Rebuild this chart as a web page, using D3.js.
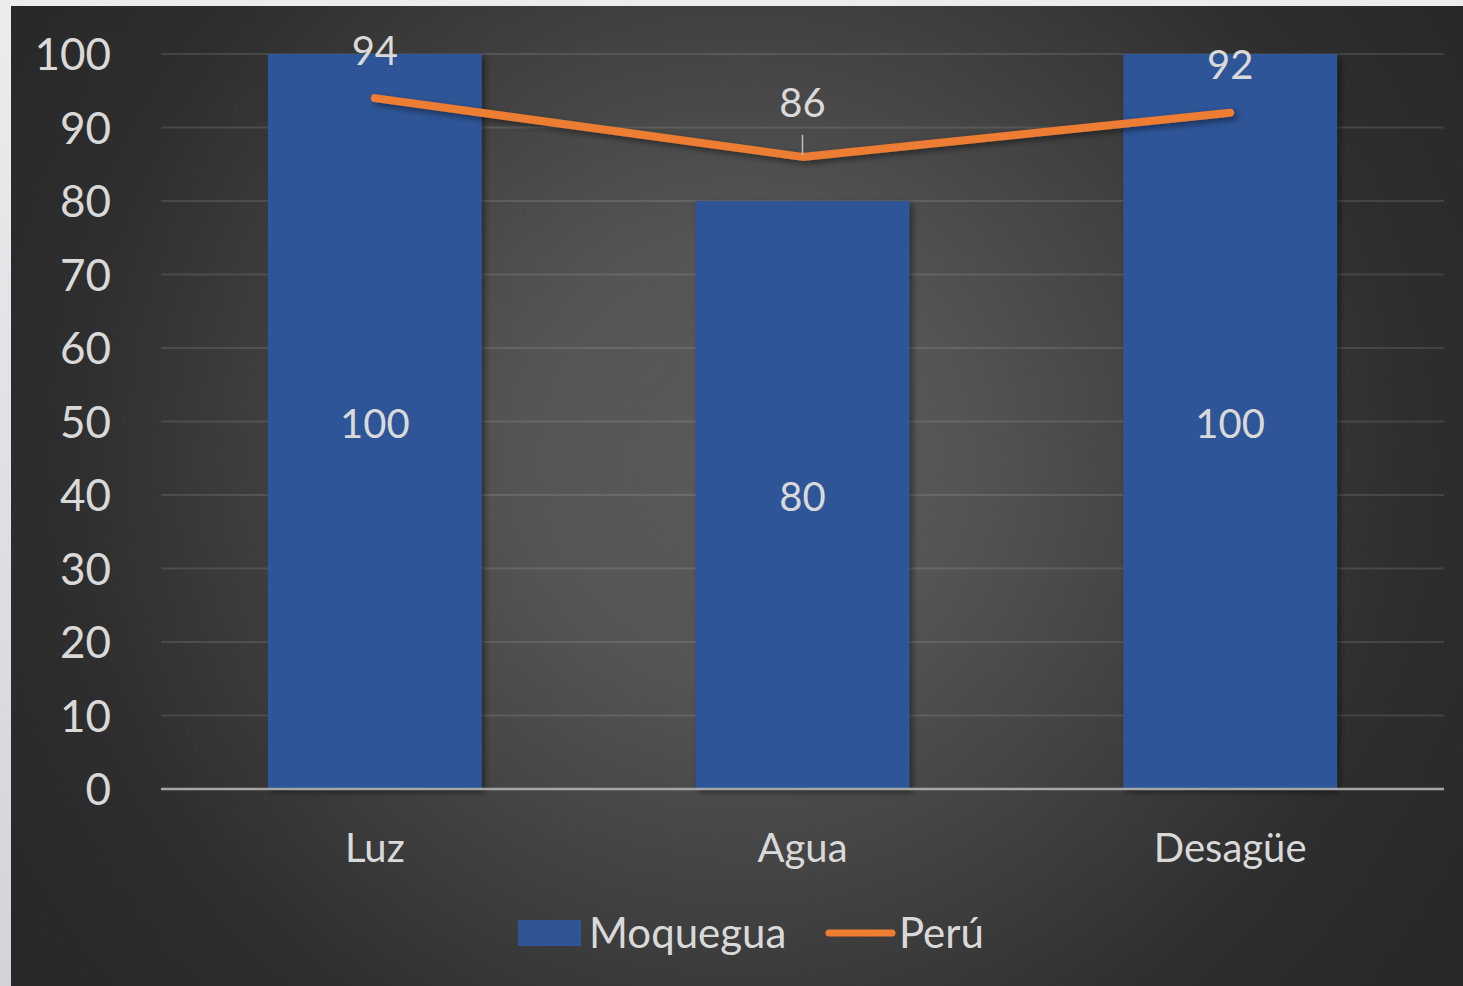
<!DOCTYPE html>
<html>
<head>
<meta charset="utf-8">
<script src="https://cdn.jsdelivr.net/npm/d3@7"></script>
<style>
  html, body { margin: 0; padding: 0; background: #e4e5e8; }
  svg { display: block; }
</style>
</head>
<body>
<svg id="chart" width="1463" height="986"></svg>
<script>
// Cobertura de servicios básicos (%)
const categories = ["Luz", "Agua", "Desagüe"];
const moquegua = [100, 80, 100];
const peru = [94, 86, 92];
const yTicks = [0, 10, 20, 30, 40, 50, 60, 70, 80, 90, 100];
const seriesNames = ["Moquegua", "Perú"];

const W = 1463, H = 986;
const panel = { x: 11, y: 6 };
const margin = { left: 161, right: 19, top: 54, bottom: 197 };
const font = "Lato, Calibri, 'Noto Sans', sans-serif";
const textColor = "#d9d9d9";
const blue = "#2f5597";
const orange = "#ed7d31";

const svg = d3.select("#chart");
const defs = svg.append("defs");

// Panel background: soft radial highlight
const rg = defs.append("radialGradient")
  .attr("id", "bg").attr("gradientUnits", "userSpaceOnUse")
  .attr("cx", 740).attr("cy", 460).attr("r", 860);
rg.append("stop").attr("offset", "0%").attr("stop-color", "#5a5a5a");
rg.append("stop").attr("offset", "25%").attr("stop-color", "#555555");
rg.append("stop").attr("offset", "55%").attr("stop-color", "#3f3f3f");
rg.append("stop").attr("offset", "78%").attr("stop-color", "#2e2e2e");
rg.append("stop").attr("offset", "100%").attr("stop-color", "#282828");

// Frame gradient on the left margin
const lg = defs.append("linearGradient").attr("id", "frame")
  .attr("x1", 0).attr("y1", 0).attr("x2", 0).attr("y2", 1);
lg.append("stop").attr("offset", "0%").attr("stop-color", "#ebecee");
lg.append("stop").attr("offset", "100%").attr("stop-color", "#d3d4d8");

const shadow = defs.append("filter").attr("id", "shadow")
  .attr("x", "-20%").attr("y", "-20%").attr("width", "140%").attr("height", "140%");
shadow.append("feDropShadow").attr("dx", 3).attr("dy", 3)
  .attr("stdDeviation", 3).attr("flood-color", "#000").attr("flood-opacity", 0.45);

svg.append("rect").attr("x", 0).attr("y", 0).attr("width", W).attr("height", H)
  .attr("fill", "url(#frame)");
svg.append("rect").attr("x", panel.x).attr("y", panel.y)
  .attr("width", W - panel.x).attr("height", H - panel.y).attr("fill", "url(#bg)");

const x = d3.scaleBand()
  .domain(categories)
  .range([margin.left, W - margin.right])
  .paddingInner(0.5).paddingOuter(0.25);

const y = d3.scaleLinear().domain([0, 100]).range([H - margin.bottom, margin.top]);

// Gridlines
svg.append("g")
  .selectAll("line").data(yTicks.filter(d => d > 0)).join("line")
  .attr("x1", margin.left).attr("x2", W - margin.right)
  .attr("y1", d => y(d)).attr("y2", d => y(d))
  .attr("stroke", "#ffffff").attr("stroke-opacity", 0.11).attr("stroke-width", 2);

// Y axis labels
const yAxis = d3.axisLeft(y).tickValues(yTicks).tickSize(0).tickPadding(0);
const gy = svg.append("g").attr("transform", `translate(${111},0)`).call(yAxis);
gy.select(".domain").remove();
gy.selectAll("text")
  .attr("fill", textColor).attr("font-family", font).attr("font-size", 44)
  .attr("dy", "0.36em");

// Bars
svg.append("g").attr("filter", "url(#shadow)")
  .selectAll("rect").data(categories).join("rect")
  .attr("x", d => x(d)).attr("width", x.bandwidth())
  .attr("y", (d, i) => y(moquegua[i]))
  .attr("height", (d, i) => y(0) - y(moquegua[i]))
  .attr("fill", blue);

// Baseline axis
const xAxis = d3.axisBottom(x).tickSize(0).tickPadding(0);
const gx = svg.append("g").attr("transform", `translate(0,${y(0)})`).call(xAxis);
gx.select(".domain")
  .attr("d", `M${margin.left},0H${W - margin.right}`)
  .attr("stroke", "#a6a6a6").attr("stroke-width", 2.5);
gx.selectAll("text")
  .attr("fill", textColor).attr("font-family", font).attr("font-size", 40)
  .attr("y", 59).attr("dy", "0.36em");

// Bar value labels
svg.append("g")
  .selectAll("text").data(categories).join("text")
  .attr("x", d => x(d) + x.bandwidth() / 2)
  .attr("y", (d, i) => (y(0) + y(moquegua[i])) / 2 + 2)
  .attr("dy", "0.36em")
  .attr("text-anchor", "middle")
  .attr("fill", textColor).attr("font-family", font).attr("font-size", 40)
  .text((d, i) => moquegua[i]);

// Perú line
const line = d3.line()
  .x((d, i) => x(categories[i]) + x.bandwidth() / 2)
  .y(d => y(d));
svg.append("path").datum(peru)
  .attr("d", line)
  .attr("fill", "none").attr("stroke", orange).attr("stroke-width", 8)
  .attr("stroke-linecap", "round").attr("stroke-linejoin", "round")
  .attr("filter", "url(#shadow)");

// Line value labels (offset above each point)
const labelOffset = [48, 54, 48];
const lg2 = svg.append("g");
lg2.selectAll("text").data(peru).join("text")
  .attr("x", (d, i) => x(categories[i]) + x.bandwidth() / 2)
  .attr("y", (d, i) => y(d) - labelOffset[i])
  .attr("dy", "0.36em")
  .attr("text-anchor", "middle")
  .attr("fill", textColor).attr("font-family", font).attr("font-size", 40)
  .text(d => d);
// Leader line for the middle label
lg2.append("line")
  .attr("x1", x(categories[1]) + x.bandwidth() / 2)
  .attr("x2", x(categories[1]) + x.bandwidth() / 2)
  .attr("y1", y(peru[1]) - 22).attr("y2", y(peru[1]) - 2)
  .attr("stroke", "#bfbfbf").attr("stroke-width", 1.5);

// Legend
const legend = svg.append("g");
legend.append("rect").attr("x", 518).attr("y", 920).attr("width", 63).attr("height", 26)
  .attr("fill", blue);
legend.append("text").attr("x", 589).attr("y", 933).attr("dy", "0.36em")
  .attr("fill", textColor).attr("font-family", font).attr("font-size", 42)
  .text(seriesNames[0]);
legend.append("line").attr("x1", 829).attr("x2", 892).attr("y1", 933).attr("y2", 933)
  .attr("stroke", orange).attr("stroke-width", 7).attr("stroke-linecap", "round");
legend.append("text").attr("x", 899).attr("y", 933).attr("dy", "0.36em")
  .attr("fill", textColor).attr("font-family", font).attr("font-size", 42)
  .text(seriesNames[1]);
</script>
</body>
</html>
